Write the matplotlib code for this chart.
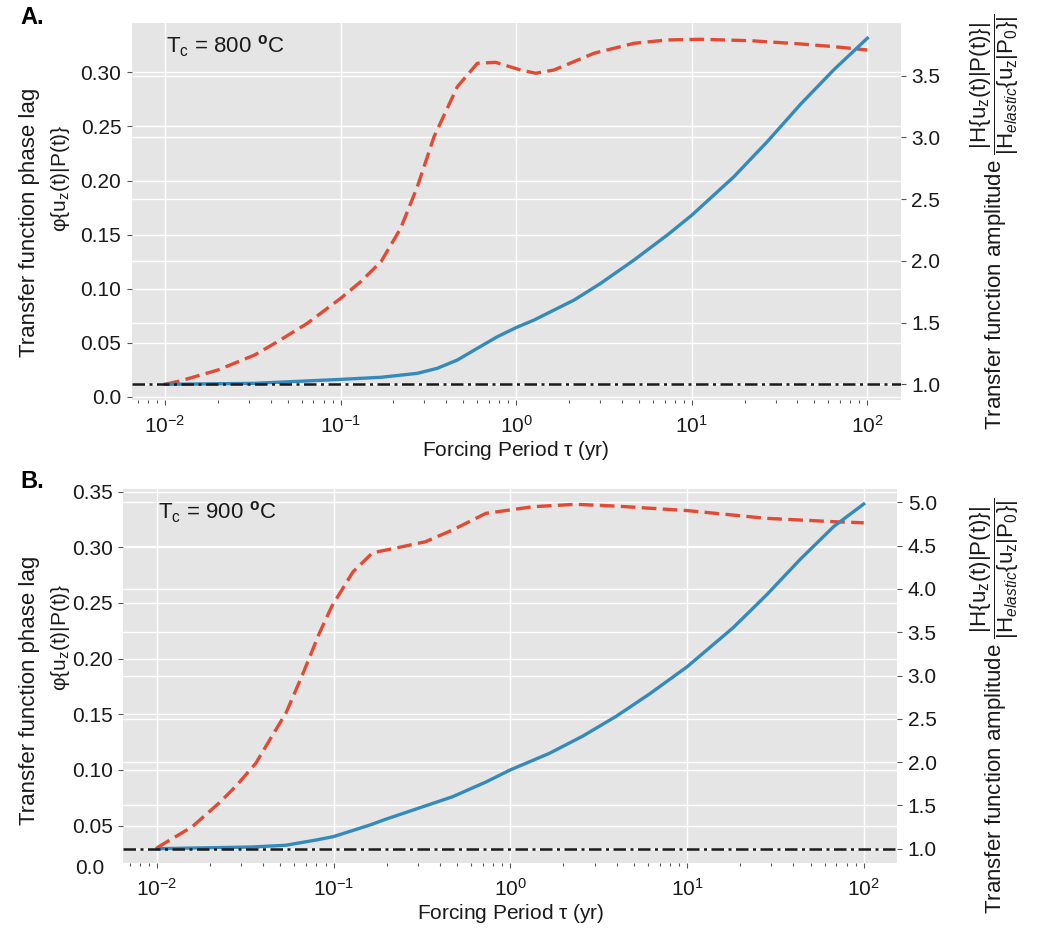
import numpy as np
import matplotlib
matplotlib.use("Agg")
import matplotlib.pyplot as plt
from matplotlib.transforms import blended_transform_factory
from matplotlib.ticker import FixedLocator, FixedFormatter, LogLocator, NullFormatter

plt.rcParams['font.family'] = ['Liberation Sans', 'DejaVu Sans']
plt.rcParams['mathtext.fontset'] = 'custom'
plt.rcParams['mathtext.rm'] = 'Liberation Sans'
plt.rcParams['mathtext.it'] = 'Liberation Sans:italic'
plt.rcParams['mathtext.bf'] = 'Liberation Sans:bold'

# ---- data (log10 of forcing period in years) ----
# panel A, Tc = 800 C
logtau_phase_a = [-2.0, -1.91, -1.70, -1.49, -1.36, -1.19, -1.0, -0.886, -0.77, -0.658,
                  -0.563, -0.468, -0.335, -0.221, -0.117, 0.025, 0.111, 0.215, 0.443,
                  0.671, 0.861, 1.05, 1.335, 1.62, 1.81, 2.0]
phase_a = [0.0115, 0.0148, 0.0247, 0.0386, 0.0509, 0.0679, 0.091, 0.1064, 0.1249, 0.1558,
           0.1943, 0.2405, 0.2868, 0.3084, 0.3093, 0.3022, 0.2992, 0.3022, 0.3177,
           0.3269, 0.3300, 0.3306, 0.3293, 0.3263, 0.3238, 0.3207]
logtau_amp_a = [-2.0, -1.49, -1.0, -0.77, -0.563, -0.449, -0.335, -0.221, -0.107, 0.0,
                0.102, 0.33, 0.481, 0.671, 0.861, 1.0, 1.24, 1.43, 1.62, 1.81, 2.0]
amp_a = [1.0, 1.008, 1.04, 1.057, 1.089, 1.13, 1.197, 1.292, 1.386, 1.46,
         1.521, 1.683, 1.818, 2.007, 2.21, 2.37, 2.682, 2.966, 3.27, 3.55, 3.804]

# panel B, Tc = 900 C
logtau_phase_b = [-2.0, -1.80, -1.65, -1.555, -1.44, -1.35, -1.27, -1.18, -1.08, -1.01,
                  -0.89, -0.78, -0.61, -0.48, -0.327, -0.138, 0.13, 0.37, 0.60, 1.0,
                  1.45, 1.83, 2.0]
phase_b = [0.030, 0.049, 0.070, 0.085, 0.106, 0.130, 0.151, 0.184, 0.223, 0.247,
           0.278, 0.295, 0.3006, 0.305, 0.3155, 0.3305, 0.3365, 0.3386, 0.337, 0.333,
           0.326, 0.323, 0.322]
logtau_amp_b = [-2.0, -1.46, -1.27, -1.10, -1.0, -0.80, -0.705, -0.516, -0.327, -0.138,
                0.0, 0.22, 0.41, 0.60, 0.79, 1.0, 1.26, 1.45, 1.64, 1.83, 2.0]
amp_b = [1.0, 1.02, 1.04, 1.10, 1.14, 1.27, 1.34, 1.47, 1.60, 1.77,
         1.91, 2.10, 2.30, 2.53, 2.79, 3.10, 3.55, 3.93, 4.34, 4.72, 4.98]

phase_ticks_a = [0.0, 0.05, 0.10, 0.15, 0.20, 0.25, 0.30]
phase_labels_a = ['0.0', '0.05', '0.10', '0.15', '0.20', '0.25', '0.30']
phase_ticks_b = [0.05, 0.10, 0.15, 0.20, 0.25, 0.30, 0.35]
phase_labels_b = ['0.05', '0.10', '0.15', '0.20', '0.25', '0.30', '0.35']
amp_ticks_a = [1.0, 1.5, 2.0, 2.5, 3.0, 3.5]
amp_ticks_b = [1.0, 1.5, 2.0, 2.5, 3.0, 3.5, 4.0, 4.5, 5.0]

RED = '#E24A33'
BLUE = '#348ABD'
BG = '#E5E5E5'
W, H = 1037, 939

fig = plt.figure(figsize=(W / 100, H / 100), dpi=100)


def px_axes(x0, y0, x1, y1):
    return fig.add_axes([x0 / W, 1 - y1 / H, (x1 - x0) / W, (y1 - y0) / H])


def panel(ax, lt_p, ph, lt_a, am, pticks, plabels, aticks, plim, alim, temp):
    ax.set_facecolor(BG)
    for s in ax.spines.values():
        s.set_visible(False)
    ax.set_axisbelow(True)
    ax.set_xscale('log')
    ax.set_xlim(10 ** -2.19, 10 ** 2.19)
    ax.set_ylim(*plim)

    ax2 = ax.twinx()
    for s in ax2.spines.values():
        s.set_visible(False)
    ax2.set_ylim(*alim)

    # white grid: x decades, left ticks, and right ticks drawn underneath the curves
    ax.grid(True, which='major', axis='both', color='white', lw=1.0)
    ax.grid(False, which='minor')
    tr = blended_transform_factory(ax.transAxes, ax2.transData)
    for v in aticks:
        ax.plot([0, 1], [v, v], transform=tr, color='white', lw=1.0, zorder=0.6)

    ax.plot(np.power(10.0, lt_p), ph, color=RED, lw=2.4, dashes=(4.4, 1.9), zorder=2)
    ax2.plot(np.power(10.0, lt_a), am, color=BLUE, lw=2.4, zorder=2)
    ax2.axhline(1.0, color='#1a1a1a', lw=1.8, dashes=(5.0, 1.8, 1.2, 1.8), zorder=3)

    ax.yaxis.set_major_locator(FixedLocator(pticks))
    ax.yaxis.set_major_formatter(FixedFormatter(plabels))
    ax2.yaxis.set_major_locator(FixedLocator(aticks))
    ax2.set_yticklabels([f'{v:.1f}' for v in aticks])
    ax.xaxis.set_major_locator(FixedLocator([1e-2, 1e-1, 1e0, 1e1, 1e2]))
    ax.xaxis.set_minor_locator(LogLocator(subs=np.arange(2, 10), numticks=20))
    ax.xaxis.set_minor_formatter(NullFormatter())

    for a in (ax, ax2):
        a.tick_params(which='major', length=3.5, width=0.8, color='#555555',
                      labelcolor='#1a1a1a', labelsize=15, pad=4)
        a.tick_params(which='minor', length=2.5, width=0.8, color='#555555')
    ax.tick_params(axis='x', which='major', pad=7)

    ax.set_xlabel(r'Forcing Period $\mathrm{\tau}$ (yr)', fontsize=15, color='#1a1a1a',
                  labelpad=2)
    ax.text(0.045, 0.94, 'T$_\\mathrm{c}$ = ' + temp + ' $^\\mathbf{o}$C', transform=ax.transAxes,
            fontsize=16, color='#1a1a1a', va='center', ha='left')
    return ax2


# panel A
axA = px_axes(131.7, 23.3, 900.7, 400)
panel(axA, logtau_phase_a, phase_a, logtau_amp_a, amp_a, phase_ticks_a, phase_labels_a,
      amp_ticks_a, (-0.003, 0.3454), (0.873, 3.925), '800')

# panel B
axB = px_axes(123.3, 489.3, 897.3, 863)
panel(axB, logtau_phase_b, phase_b, logtau_amp_b, amp_b, phase_ticks_b, phase_labels_b,
      amp_ticks_b, (0.0164, 0.3521), (0.835, 5.150), '900')
axB.text(-0.024, -0.016, '0.0', transform=axB.transAxes, ha='right', va='center',
         fontsize=15, color='#1a1a1a')

# axis titles
left_title = 'Transfer function phase lag'
left_sub = 'φ{u$_\\mathrm{z}$(t)|P(t)}'
right_title = ('Transfer function amplitude '
               r'$\dfrac{|\mathrm{H\{u_z(t)|P(t)\}}|}{|\mathrm{H}_{elastic}\{\mathrm{u_z|P_0}\}|}$')

for yc_main, yc_sub, yc_right in [(222, 178, 222), (690, 637, 706)]:
    fig.text(30 / W, 1 - yc_main / H, left_title, rotation=90, fontsize=16,
             ha='center', va='center', color='#1a1a1a')
    fig.text(60 / W, 1 - yc_sub / H, left_sub, rotation=90, fontsize=15,
             ha='center', va='center', color='#1a1a1a')
    fig.text(995 / W, 1 - yc_right / H, right_title, rotation=90, fontsize=16,
             ha='center', va='center', color='#1a1a1a')

fig.text(20 / W, 1 - 18 / H, 'A.', fontsize=17, fontweight='bold', ha='left', va='center')
fig.text(20 / W, 1 - 482 / H, 'B.', fontsize=17, fontweight='bold', ha='left', va='center')

fig.savefig('out.png', dpi=100)
